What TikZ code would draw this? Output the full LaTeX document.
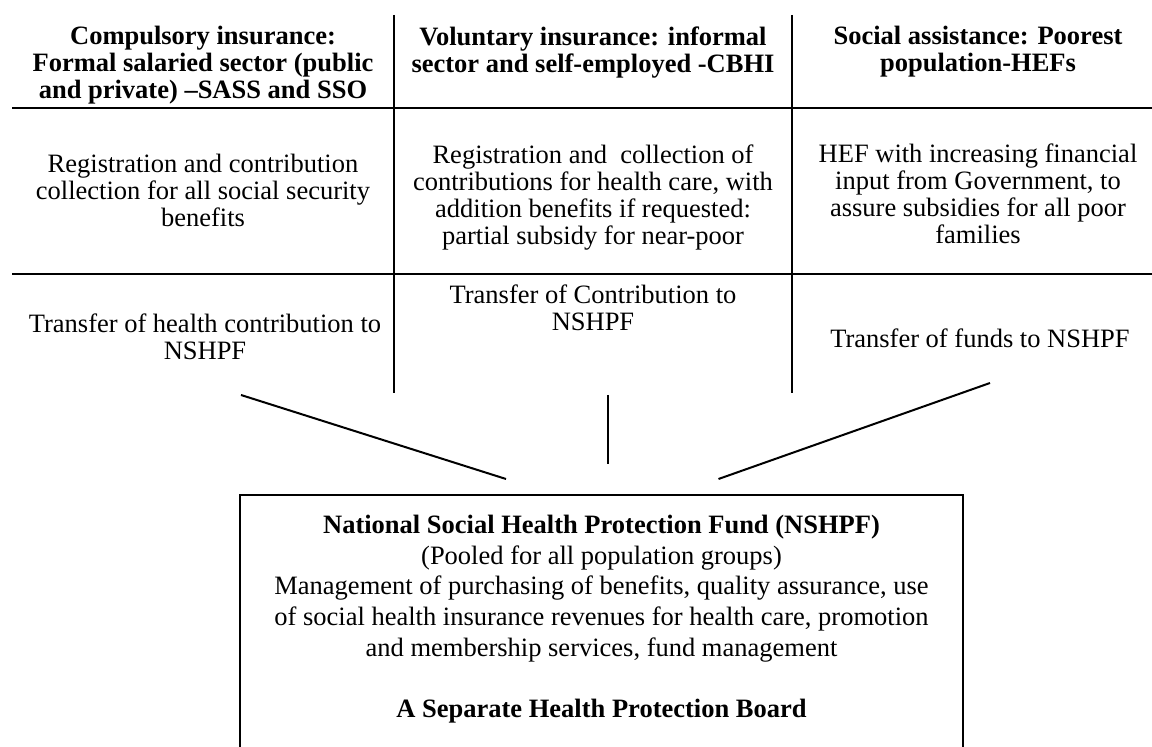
\documentclass[tikz,border=0pt]{standalone}
\usepackage{fontspec}
\setmainfont{Liberation Serif}
\usetikzlibrary{positioning}

\begin{document}
\begin{tikzpicture}[
  x=0.5pt, y=-0.5pt,
  cell/.style={align=center, inner sep=0pt, anchor=north,
               font=\fontsize{13.25}{13.5}\selectfont},
  head/.style={cell, font=\fontsize{13.25}{13.5}\selectfont\bfseries},
  rule/.style={line width=1.4pt},
  link/.style={line width=1pt},
  frame/.style={line width=1.2pt},
  fundtext/.style={align=center, inner sep=0pt, anchor=north,
                   font=\fontsize{13.25}{15.3}\selectfont}
]
  \useasboundingbox (0,0) rectangle (1152,747);

  \draw[rule] (12,108) -- (1152,108);
  \draw[rule] (12,274) -- (1152,274);
  \draw[rule] (394,15) -- (394,393);
  \draw[rule] (792,15) -- (792,393);

  \node[head] (CompHead) at (203,26)
    {Compulsory insurance:\\Formal salaried sector (public\\and private) –SASS and SSO};
  \node[head] (VolHead) at (593,26)
    {Voluntary insurance: informal\\sector and self-employed -CBHI};
  \node[head] (SocHead) at (978,26)
    {Social assistance: Poorest\\population-HEFs};

  \node[cell] (CompReg) at (203,154)
    {Registration and contribution\\collection for all social security\\benefits};
  \node[cell] (VolReg) at (593,144)
    {Registration and\ \ collection of\\contributions for health care, with\\addition benefits if requested:\\partial subsidy for near-poor};
  \node[cell] (SocReg) at (978,143)
    {HEF with increasing financial\\input from Government, to\\assure subsidies for all poor\\families};

  \node[cell] (CompTr) at (205,313)
    {Transfer of health contribution to\\NSHPF};
  \node[cell] (VolTr) at (593,284)
    {Transfer of Contribution to\\NSHPF};
  \node[cell] (SocTr) at (980,328)
    {Transfer of funds to NSHPF};

  \coordinate (CompOut) at (241,395);
  \coordinate (VolOut) at (607.5,395);
  \coordinate (SocOut) at (990,383);
  \coordinate (CompIn) at (506,479);
  \coordinate (VolIn) at (607.5,464);
  \coordinate (SocIn) at (718.5,479);
  \draw[link] (CompOut) -- (CompIn);
  \draw[link] (VolOut) -- (VolIn);
  \draw[link] (SocOut) -- (SocIn);

  \draw[frame] (240,495) rectangle (963,780);
  \node[fundtext] (Fund) at (601.5,515)
    {\textbf{National Social Health Protection Fund (NSHPF)}\\
     (Pooled for all population groups)\\
     Management of purchasing of benefits, quality assurance, use\\
     of social health insurance revenues for health care, promotion\\
     and membership services, fund management\\[15.3pt]
     \textbf{A Separate Health Protection Board}};
\end{tikzpicture}
\end{document}
